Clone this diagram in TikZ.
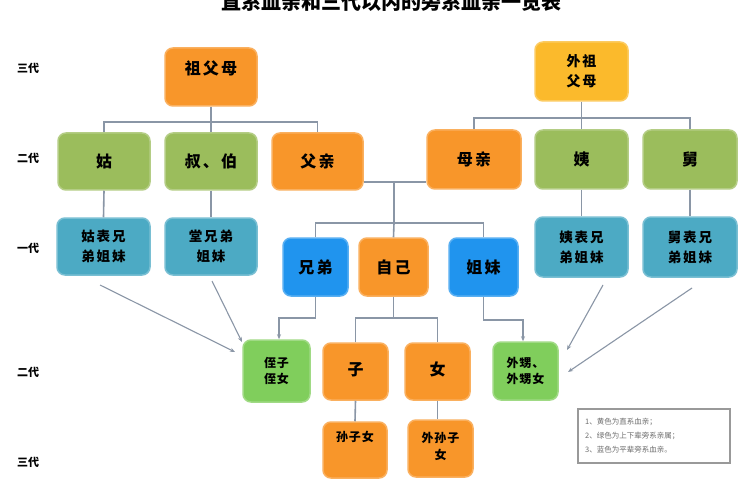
\documentclass[tikz,border=0pt]{standalone}
\usepackage{fontspec}
\setmainfont{Noto Sans CJK SC}
\newfontfamily\cjk[LetterSpace=14]{Noto Sans CJK SC}
\newfontfamily\cjksm[LetterSpace=8]{Noto Sans CJK SC}
\usetikzlibrary{arrows.meta}
\definecolor{cOrange}{RGB}{248,150,42}
\definecolor{cGold}{RGB}{251,186,44}
\definecolor{cOlive}{RGB}{155,189,92}
\definecolor{cTeal}{RGB}{76,170,196}
\definecolor{cBlue}{RGB}{32,148,238}
\definecolor{cLight}{RGB}{128,206,92}
\definecolor{cLine}{RGB}{138,150,166}
\definecolor{cLegend}{RGB}{110,110,110}
\tikzset{
  box/.style={rounded corners=8pt, line width=1.5pt, inner sep=0pt, align=center, font=\cjk\bfseries\fontsize{16}{20}\selectfont},
  orangebox/.style={box, fill=cOrange, draw=cOrange!75!white},
  goldbox/.style={box, fill=cGold, draw=cGold!75!white},
  olivebox/.style={box, fill=cOlive, draw=cOlive!75!white},
  tealbox/.style={box, fill=cTeal, draw=cTeal!75!white, font=\cjk\bfseries\fontsize{13.5}{20}\selectfont},
  bluebox/.style={box, fill=cBlue, draw=cBlue!75!white},
  lightbox/.style={box, fill=cLight, draw=cLight!75!white, font=\cjksm\bfseries\fontsize{12}{16}\selectfont},
  conn/.style={draw=cLine, line width=1.6pt},
  arr/.style={draw=cLine, line width=1.1pt, -{Stealth[length=5pt,width=4pt]}},
  gen/.style={font=\bfseries\fontsize{11}{13}\selectfont},
  smalltxt/.style={font=\cjksm\bfseries\fontsize{12}{17}\selectfont, align=center, inner sep=0pt},
}
\begin{document}
\begin{tikzpicture}[x=1pt,y=-1pt]
\useasboundingbox (0,0) rectangle (750,500);
\fill[white] (0,0) rectangle (750,500);

% title (cut off at top)
\node[font=\bfseries\fontsize{20}{22}\selectfont] (title) at (391,2) {直系血亲和三代以内的旁系血亲一览表};

% generation labels
\node[gen] (g1) at (28,68) {三代};
\node[gen] (g2) at (28,158) {二代};
\node[gen] (g3) at (28,248) {一代};
\node[gen] (g4) at (28,372) {二代};
\node[gen] (g5) at (28,462) {三代};

% grandparents
\node[orangebox, minimum width=92pt, minimum height=58pt] (zfm) at (211,77) {};
\node[font=\cjk\bfseries\fontsize{16}{20}\selectfont, inner sep=0pt] (zfmt) at (211,68) {祖父母};
\node[goldbox, minimum width=93pt, minimum height=59pt, font=\cjk\bfseries\fontsize{14}{20}\selectfont] (wzfm) at (581.5,71.5) {外祖\\父母};

% second generation up
\node[olivebox, minimum width=92pt, minimum height=57pt] (gu) at (104,161.5) {姑};
\node[olivebox, minimum width=92pt, minimum height=57pt] (shubo) at (211,161.5) {叔、伯};
\node[orangebox, minimum width=91pt, minimum height=57pt] (fq) at (317.5,161.5) {父亲};
\node[orangebox, minimum width=94pt, minimum height=59pt] (mq) at (474,159.5) {母亲};
\node[olivebox, minimum width=93pt, minimum height=59pt] (yi) at (581.5,159.5) {姨};
\node[olivebox, minimum width=94pt, minimum height=59pt] (jiu) at (690,159.5) {舅};

% cousins
\node[tealbox, minimum width=93pt, minimum height=57pt] (gubiao) at (103.5,246.5) {姑表兄\\弟姐妹};
\node[tealbox, minimum width=92pt, minimum height=57pt] (tang) at (211,246.5) {堂兄弟\\姐妹};
\node[tealbox, minimum width=93pt, minimum height=60pt] (yibiao) at (581.5,247) {姨表兄\\弟姐妹};
\node[tealbox, minimum width=94pt, minimum height=60pt] (jiubiao) at (690,247) {舅表兄\\弟姐妹};

% siblings and self
\node[bluebox, minimum width=65pt, minimum height=58pt] (xd) at (315.5,267) {兄弟};
\node[orangebox, minimum width=69pt, minimum height=58pt] (zj) at (393.5,267) {自己};
\node[bluebox, minimum width=69pt, minimum height=58pt] (jm) at (483.5,267) {姐妹};

% next generation down
\node[lightbox, minimum width=67pt, minimum height=62pt] (zhi) at (276.5,371) {侄子\\侄女};
\node[orangebox, minimum width=65pt, minimum height=57pt] (zi) at (355.5,371.5) {\raisebox{5pt}{子}};
\node[orangebox, minimum width=65pt, minimum height=57pt] (nv) at (437.5,371.5) {\raisebox{5pt}{女}};
\node[lightbox, minimum width=65pt, minimum height=58pt] (wsh) at (525.5,371) {外甥、\\外甥女};

% grandchildren
\node[orangebox, minimum width=64pt, minimum height=56pt] (szn) at (355,450) {};
\node[smalltxt] (sznt) at (355,437) {孙子女};
\node[orangebox, minimum width=65pt, minimum height=57pt] (wszn) at (440.5,448.5) {};
\node[smalltxt] (wsznt) at (440.5,446) {外孙子\\女};

% connectors: paternal
\coordinate (b1) at (211,122);
\draw[conn] (zfm.south) -- (b1);
\draw[conn] (gu.north) |- (b1);
\draw[conn] (fq.north) |- (b1);
\draw[conn] (shubo.north) -- (b1);
\draw[conn] (gu.south) -- (gubiao.north);
\draw[conn] (shubo.south) -- (tang.north);

% maternal
\coordinate (b2) at (581.5,118);
\draw[conn] (wzfm.south) -- (b2);
\draw[conn] (mq.north) |- (b2);
\draw[conn] (jiu.north) |- (b2);
\draw[conn] (yi.north) -- (b2);
\draw[conn] (yi.south) -- (yibiao.north);
\draw[conn] (jiu.south) -- (jiubiao.north);

% parents -> children
\coordinate (m) at (394,182);
\coordinate (b3) at (394,223);
\draw[conn] (fq.east |- m) -- (mq.west |- m);
\draw[conn] (m) -- (b3);
\draw[conn] (xd.north) |- (b3);
\draw[conn] (jm.north) |- (b3);
\draw[conn] (zj.north) -- (b3);

% self -> children
\coordinate (b4) at (393.5,318);
\draw[conn] (zj.south) -- (b4);
\draw[conn] (zi.north) |- (b4);
\draw[conn] (nv.north) |- (b4);
\draw[conn] (zi.south) -- (szn.north);
\draw[conn] (nv.south) -- (nv.south |- wszn.north);

% siblings -> nephews
\coordinate (c1) at (297,318);
\draw[conn, -{Stealth[length=5pt,width=4pt]}] (xd.south) |- (c1) -| ([xshift=2.5pt]zhi.north);
\coordinate (c2) at (505,320);
\draw[conn, -{Stealth[length=5pt,width=4pt]}] (jm.south) |- (c2) -| ([xshift=-2.5pt]wsh.north);

% diagonal arrows
\coordinate (d1s) at (100,285); \coordinate (d1e) at (235,352);
\coordinate (d2s) at (212,281); \coordinate (d2e) at (242,342);
\coordinate (d3s) at (603,285); \coordinate (d3e) at (567,350);
\coordinate (d4s) at (692,288); \coordinate (d4e) at (568,372);
\draw[arr] (d1s) -- (d1e);
\draw[arr] (d2s) -- (d2e);
\draw[arr] (d3s) -- (d3e);
\draw[arr] (d4s) -- (d4e);

% legend
\node[draw=cLegend!70!white, line width=1.3pt, minimum width=152pt, minimum height=54pt, inner sep=0pt] (legend) at (654,436) {};
\node[anchor=west, align=left, text=cLegend, inner sep=0pt, font=\fontsize{7.5}{14}\selectfont] (legtxt) at (585,436) {1、黄色为直系血亲；\\2、绿色为上下辈旁系亲属；\\3、蓝色为平辈旁系血亲。};
\end{tikzpicture}
\end{document}
